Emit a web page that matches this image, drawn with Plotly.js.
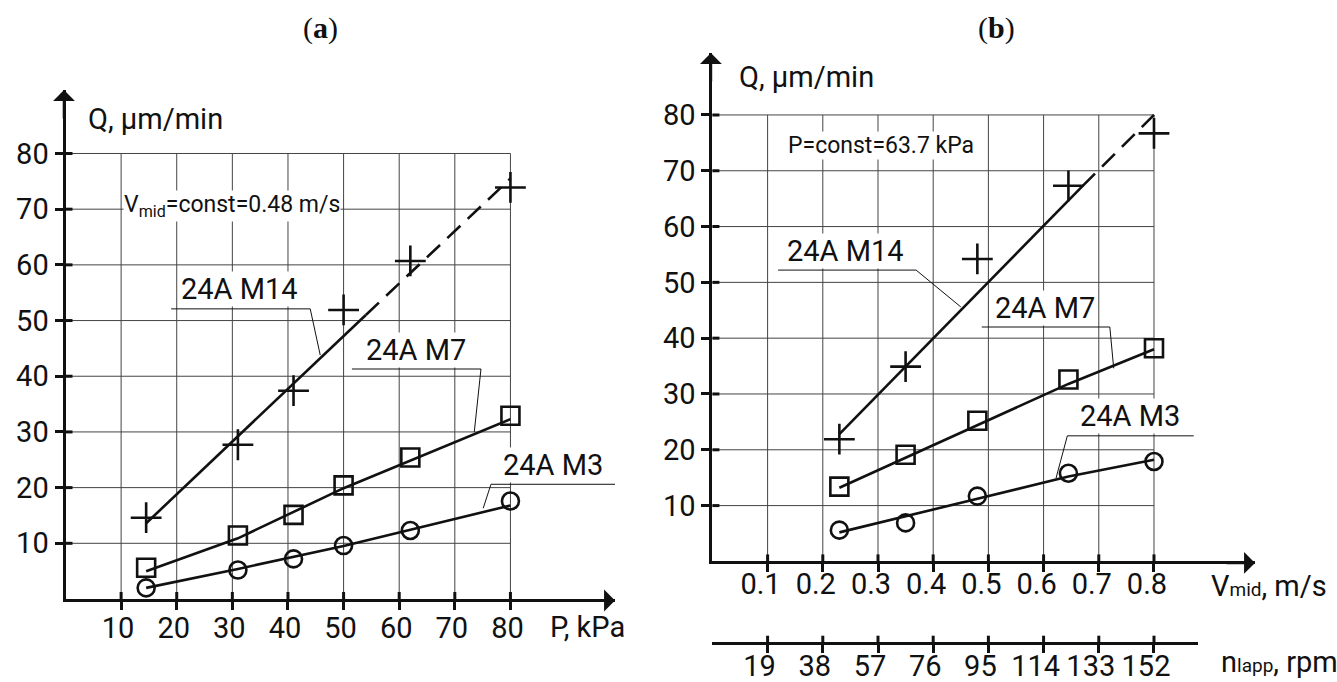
<!DOCTYPE html>
<html>
<head>
<meta charset="utf-8">
<script src="https://cdn.plot.ly/plotly-3.0.1.min.js"></script>
<style>
  html, body { margin: 0; padding: 0; background: #fff; }
  #chart { width: 1337px; height: 682px; }
</style>
</head>
<body>
<div id="chart"></div>
<script>
// ---------- DATA: panel (a) Q vs P at Vmid = 0.48 m/s ----------
const pA_kPa   = [14.5, 31, 41, 50, 62, 80];
const qA_M14   = [14.6, 27.7, 37.4, 51.9, 60.7, 73.9];
const qA_M7    = [5.6, 11.4, 15.1, 20.4, 25.4, 32.9];
const qA_M3    = [2.0, 5.2, 7.2, 9.6, 12.3, 17.6];
// fitted lines (a)
const fitA_M14_solidX = [14.5, 54];
const fitA_M14_solidY = [13.6, 51.0];
const fitA_M14_dashX  = [54, 80];
const fitA_M14_dashY  = [51.0, 75.5];
const fitA_M7X = [14.5, 31, 50, 80];
const fitA_M7Y = [5.0, 10.9, 19.9, 32.3];
const fitA_M3X = [14.5, 31, 50, 80];
const fitA_M3Y = [2.0, 5.4, 9.5, 16.8];
const ticksA_P = [10, 20, 30, 40, 50, 60, 70, 80];
const ticksA_Q = [10, 20, 30, 40, 50, 60, 70, 80];

// ---------- DATA: panel (b) Q vs Vmid at P = 63.7 kPa ----------
const vB_ms    = [0.23, 0.35, 0.48, 0.645, 0.8];
const qB_M14   = [21.9, 34.9, 54.2, 67.3, 76.7];
const qB_M7    = [13.4, 19.1, 25.2, 32.6, 38.2];
const qB_M3    = [5.6, 6.9, 11.7, 15.8, 17.9];
const fitB_M14_solidX = [0.23, 0.67];
const fitB_M14_solidY = [22.8, 67.2];
const fitB_M14_dashX  = [0.67, 0.8];
const fitB_M14_dashY  = [67.2, 80.0];
const fitB_M7X = [0.23, 0.35, 0.48, 0.645, 0.8];
const fitB_M7Y = [13.2, 18.6, 24.4, 31.8, 38.0];
const fitB_M3X = [0.23, 0.48, 0.645, 0.8];
const fitB_M3Y = [5.2, 11.3, 15.2, 18.2];
const ticksB_V = [0.1, 0.2, 0.3, 0.4, 0.5, 0.6, 0.7, 0.8];
const ticksB_Vtext = ['0.1', '0.2', '0.3', '0.4', '0.5', '0.6', '0.7', '0.8'];
const ticksB_Q = [10, 20, 30, 40, 50, 60, 70, 80];
const ticksB_rpm = [19, 38, 57, 76, 95, 114, 133, 152];

// ---------- labels (text + leader geometry, in data units) ----------
const labelsA = [
  {text: '24A M14', tx: 31.2, ty: 52.1, lx: [19.0, 44.0, 45.8], ly: [52.1, 52.1, 43.8]},
  {text: '24A M7',  tx: 63.1, ty: 41.3, lx: [51.5, 74.7, 73.5], ly: [41.3, 41.3, 30.0]},
  {text: '24A M3',  tx: 87.6, ty: 20.6, lx: [98.8, 76.5, 75.1], ly: [20.6, 20.6, 16.3]}
];
const labelsB = [
  {text: '24A M14', tx: 0.242, ty: 52.2, lx: [0.119, 0.369, 0.450], ly: [52.2, 52.2, 45.6]},
  {text: '24A M7',  tx: 0.603, ty: 42.0, lx: [0.488, 0.720, 0.727], ly: [42.0, 42.0, 34.6]},
  {text: '24A M3',  tx: 0.757, ty: 22.5, lx: [0.872, 0.643, 0.6225], ly: [22.5, 22.5, 14.9]}
];

// ---------- styling ----------
const W = 1337, H = 682;
const FONT = "Roboto, 'Liberation Sans', 'DejaVu Sans', sans-serif";
const SERIF = "'Liberation Serif', 'DejaVu Serif', serif";
const INK = '#111';
const GRID = '#444';
const px = x => x / W;
const py = y => 1 - y / H;

// axis geometry (pixels)
const A = {x0: 65.5, x1: 615, y0: 599, y1: 90, xmax: 98.8, ymax: 91.4};
const B = {x0: 712.4, x1: 1255, y0: 561.4, y1: 53, xmax: 0.983, ymax: 91.1};
const RPM = {x1: 1198, y: 642.7};
const rpmPerV = ticksB_rpm[ticksB_rpm.length - 1] / ticksB_V[ticksB_V.length - 1];
const rpmMax = (RPM.x1 - B.x0) / ((B.x1 - B.x0) / B.xmax) * rpmPerV;

const traces = [];
function line(x, y, xa, ya, w, dash) {
  traces.push({x, y, xaxis: xa, yaxis: ya, type: 'scatter', mode: 'lines',
    line: {color: INK, width: w, dash: dash || 'solid'}, hoverinfo: 'skip', showlegend: false});
}
function marks(x, y, xa, ya, symbol, size) {
  traces.push({x, y, xaxis: xa, yaxis: ya, type: 'scatter', mode: 'markers', cliponaxis: false,
    marker: {symbol, size, color: INK, line: {color: INK, width: 2.6}},
    hoverinfo: 'skip', showlegend: false});
}
// panel a
line(fitA_M14_solidX, fitA_M14_solidY, 'x', 'y', 2.6);
line(fitA_M14_dashX, fitA_M14_dashY, 'x', 'y', 2.6, '18px,10px');
line(fitA_M7X, fitA_M7Y, 'x', 'y', 2.6);
line(fitA_M3X, fitA_M3Y, 'x', 'y', 2.6);
marks(pA_kPa, qA_M14, 'x', 'y', 'cross-thin', 22);
marks(pA_kPa, qA_M7, 'x', 'y', 'square-open', 18);
marks(pA_kPa, qA_M3, 'x', 'y', 'circle-open', 17);
labelsA.forEach(l => line(l.lx, l.ly, 'x', 'y', 1));
// panel b
line(fitB_M14_solidX, fitB_M14_solidY, 'x2', 'y2', 2.6);
line(fitB_M14_dashX, fitB_M14_dashY, 'x2', 'y2', 2.6, '18px,10px');
line(fitB_M7X, fitB_M7Y, 'x2', 'y2', 2.6);
line(fitB_M3X, fitB_M3Y, 'x2', 'y2', 2.6);
marks(vB_ms, qB_M14, 'x2', 'y2', 'cross-thin', 22);
marks(vB_ms, qB_M7, 'x2', 'y2', 'square-open', 18);
marks(vB_ms, qB_M3, 'x2', 'y2', 'circle-open', 17);
labelsB.forEach(l => line(l.lx, l.ly, 'x2', 'y2', 1));
// invisible trace carrying the rpm axis
traces.push({x: ticksB_rpm, y: ticksB_rpm.map(() => 0), xaxis: 'x3', yaxis: 'y2', type: 'scatter',
  mode: 'markers', marker: {opacity: 0}, hoverinfo: 'skip', showlegend: false});

// grid shapes + inner halves of the crossing tick marks
const shapes = [];
function grid(xs, ys, xr, yr) {
  const xm = xs[xs.length - 1], ym = ys[ys.length - 1];
  xs.forEach(v => shapes.push({type: 'line', xref: xr, yref: yr, x0: v, x1: v, y0: 0, y1: ym,
    line: {color: GRID, width: 1}, layer: 'below'}));
  ys.forEach(v => shapes.push({type: 'line', xref: xr, yref: yr, x0: 0, x1: xm, y0: v, y1: v,
    line: {color: GRID, width: 1}, layer: 'below'}));
}
grid(ticksA_P, ticksA_Q, 'x', 'y');
grid(ticksB_V, ticksB_Q, 'x2', 'y2');
function innerTicksX(vals, xr, yPix) {
  vals.forEach(v => shapes.push({type: 'line', xref: xr, yref: 'paper', x0: v, x1: v,
    y0: py(yPix), y1: py(yPix - 7), line: {color: INK, width: 3}}));
}
function innerTicksY(vals, yr, xPix) {
  vals.forEach(v => shapes.push({type: 'line', xref: 'paper', yref: yr, y0: v, y1: v,
    x0: px(xPix), x1: px(xPix + 7), line: {color: INK, width: 3}}));
}
innerTicksX(ticksA_P, 'x', A.y0);
innerTicksY(ticksA_Q, 'y', A.x0);
innerTicksX(ticksB_V, 'x2', B.y0);
innerTicksY(ticksB_Q, 'y2', B.x0);
innerTicksX(ticksB_rpm, 'x3', RPM.y);

const tickFont = {family: FONT, size: 29, color: INK};
function axisBase(extra) {
  return Object.assign({
    showgrid: false, zeroline: false, showline: true, linewidth: 3, linecolor: INK,
    ticks: 'outside', ticklen: 8, tickwidth: 3, tickcolor: INK, tickmode: 'array',
    tickangle: 0, tickfont: tickFont, fixedrange: true
  }, extra);
}

const annotations = [];
function txt(text, x, y, opts) {
  annotations.push(Object.assign({text, x, y, xref: 'paper', yref: 'paper', showarrow: false,
    font: {family: FONT, size: 29, color: INK}, xanchor: 'left', yanchor: 'middle'}, opts || {}));
}
// titles
txt('(<b>a</b>)', px(320), py(28), {xanchor: 'center', font: {family: SERIF, size: 30, color: INK}});
txt('(<b>b</b>)', px(996), py(28), {xanchor: 'center', font: {family: SERIF, size: 30, color: INK}});
// axis titles
txt('Q, μm/min', px(86), py(119));
txt('P, kPa', px(548), py(627));
txt('Q, μm/min', px(737), py(77));
txt('V<span style="font-size:19px">mid</span>, m/s', px(1209), py(586));
txt('n<span style="font-size:19px">lapp</span>, rpm', px(1219), py(662));
// condition notes
annotations.push({text: 'V<sub>mid</sub>=const=0.48 m/s', x: 29.9, y: 70.6, xref: 'x', yref: 'y',
  showarrow: false, bgcolor: '#fff', borderpad: 0, font: {family: FONT, size: 23, color: INK}});
annotations.push({text: 'P=const=63.7 kPa', x: 0.305, y: 74.6, xref: 'x2', yref: 'y2',
  showarrow: false, bgcolor: '#fff', borderpad: 0, font: {family: FONT, size: 23, color: INK}});
// series labels
labelsA.forEach(l => annotations.push({text: l.text, x: l.tx, y: l.ty, xref: 'x', yref: 'y',
  showarrow: false, yanchor: 'bottom', yshift: 1.5, bgcolor: '#fff', borderpad: 0,
  font: {family: FONT, size: 29, color: INK}}));
labelsB.forEach(l => annotations.push({text: l.text, x: l.tx, y: l.ty, xref: 'x2', yref: 'y2',
  showarrow: false, yanchor: 'bottom', yshift: 1.5, bgcolor: '#fff', borderpad: 0,
  font: {family: FONT, size: 29, color: INK}}));
// axis arrows
function arrow(x, y, xr, yr, ax, ay, xs, ys) {
  annotations.push({text: '', x, y, xref: xr, yref: yr, ax, ay, axref: 'pixel', ayref: 'pixel',
    showarrow: true, arrowhead: 1, arrowsize: 1.4, arrowwidth: 2.6, arrowcolor: INK,
    xshift: xs, yshift: ys});
}
arrow(A.xmax, 0, 'x', 'y', -30, 0, 0, -1.5);
arrow(0, A.ymax, 'x', 'y', 0, 30, -1.5, 0);
arrow(B.xmax, 0, 'x2', 'y2', -30, 0, 0, -1.5);
arrow(0, B.ymax, 'x2', 'y2', 0, 30, -1.5, 0);

const layout = {
  width: W, height: H,
  margin: {l: 0, r: 0, t: 0, b: 0, pad: 0},
  paper_bgcolor: '#fff', plot_bgcolor: 'rgba(0,0,0,0)',
  showlegend: false,
  xaxis: axisBase({domain: [px(A.x0), px(A.x1)], range: [0, A.xmax], anchor: 'y',
    tickvals: ticksA_P, ticktext: ticksA_P.map(String), ticklabelstandoff: -7, ticklabelshift: -3}),
  yaxis: axisBase({domain: [py(A.y0), py(A.y1)], range: [0, A.ymax], anchor: 'x',
    tickvals: ticksA_Q, ticktext: ticksA_Q.map(String), ticklabelstandoff: 0}),
  xaxis2: axisBase({domain: [px(B.x0), px(B.x1)], range: [0, B.xmax], anchor: 'y2',
    tickvals: ticksB_V, ticktext: ticksB_Vtext, ticklabelstandoff: -13, ticklabelshift: -7}),
  yaxis2: axisBase({domain: [py(B.y0), py(B.y1)], range: [0, B.ymax], anchor: 'x2',
    tickvals: ticksB_Q, ticktext: ticksB_Q.map(String), ticklabelstandoff: 0}),
  xaxis3: axisBase({domain: [px(B.x0), px(RPM.x1)], range: [0, rpmMax], anchor: 'free',
    position: 1 - RPM.y / H, tickvals: ticksB_rpm, ticktext: ticksB_rpm.map(String),
    ticklabelstandoff: -12, ticklabelshift: -8}),
  shapes, annotations
};

Plotly.newPlot('chart', traces, layout, {displayModeBar: false, staticPlot: true});
</script>
</body>
</html>
